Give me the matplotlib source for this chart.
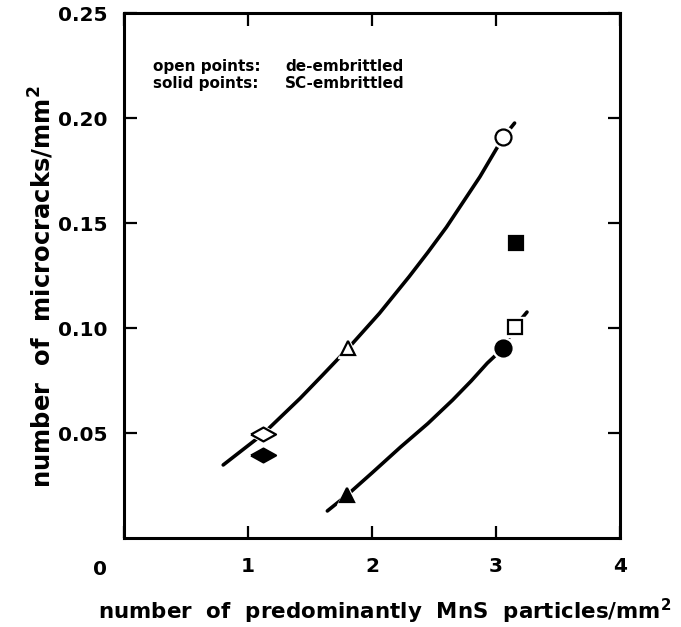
import matplotlib
matplotlib.use("Agg")
import matplotlib.pyplot as plt

plt.rcParams["font.family"] = ["DejaVu Sans"]
plt.rcParams["font.weight"] = "bold"
plt.rcParams["axes.labelweight"] = "bold"
plt.rcParams["mathtext.default"] = "bf"

# fitted curves
upper_x = [0.80, 1.12, 1.42, 1.60, 1.81, 2.06, 2.30, 2.45, 2.60, 2.87, 3.06, 3.15]
upper_y = [0.0348, 0.0495, 0.0665, 0.0775, 0.0905, 0.107, 0.1245, 0.136, 0.148, 0.172, 0.191, 0.1976]
lower_x = [1.64, 1.80, 2.00, 2.23, 2.45, 2.65, 2.80, 2.93, 3.06, 3.15, 3.25]
lower_y = [0.0129, 0.0205, 0.031, 0.0433, 0.0545, 0.0657, 0.0748, 0.0833, 0.0905, 0.1005, 0.1076]

# measured points (open = de-embrittled, solid = SC-embrittled)
open_x = [1.12, 1.81, 3.06, 3.15]
open_y = [0.0495, 0.0905, 0.191, 0.1005]
solid_x = [1.12, 1.80, 3.06, 3.16]
solid_y = [0.0395, 0.0205, 0.0905, 0.1405]

flat_diamond = [(-1.8, 0), (0, 1), (1.8, 0), (0, -1), (-1.8, 0)]
shapes = [(flat_diamond, 18), ("^", 10.5), ("o", 11.5), ("s", 10.5)]

xticks = [0, 1, 2, 3, 4]
xtick_labels = ["", "1", "2", "3", "4"]
yticks = [0.05, 0.10, 0.15, 0.20, 0.25]
ytick_labels = ["0.05", "0.10", "0.15", "0.20", "0.25"]

fig = plt.figure(figsize=(6.81, 6.27), dpi=100)
ax = fig.add_axes([0.1821, 0.1419, 0.7283, 0.8373])

ax.plot(upper_x, upper_y, color="black", lw=2.6, solid_capstyle="round",
        solid_joinstyle="round", zorder=2)
ax.plot(lower_x, lower_y, color="black", lw=2.6, solid_capstyle="round",
        solid_joinstyle="round", zorder=2)

for i, (m, ms) in enumerate(shapes):
    for xs, ys, face in [(open_x, open_y, "white"), (solid_x, solid_y, "black")]:
        # white halo so the curve breaks around each marker
        ax.plot(xs[i], ys[i], marker=m, ms=ms + 4, color="white", ls="none", zorder=3)
        ax.plot(xs[i], ys[i], marker=m, ms=ms, mfc=face, mec="black", mew=1.6,
                ls="none", zorder=4)

ax.set_xlim(0, 4)
ax.set_ylim(0, 0.25)
ax.set_xticks(xticks)
ax.set_xticklabels(xtick_labels)
ax.set_yticks(yticks)
ax.set_yticklabels(ytick_labels)
ax.tick_params(direction="in", length=9, width=1.6, top=True, right=True,
               labelsize=14.5, pad=14)
ax.tick_params(axis="y", pad=12)
for s in ax.spines.values():
    s.set_linewidth(2.2)

ax.text(-0.048, -0.06, "0", transform=ax.transAxes, ha="center", va="center",
        fontsize=14.5)

ax.set_xlabel("number  of  predominantly  MnS  particles/mm$^{2}$", fontsize=15.4)
ax.xaxis.set_label_coords(0.526, -0.112)
ax.set_ylabel("number  of  microcracks/mm$^{2}$", fontsize=17.5)
ax.yaxis.label.set_va("center")
ax.yaxis.set_label_coords(-0.167, 0.478)

ax.text(0.058, 0.899, "open points:", transform=ax.transAxes, va="center", fontsize=11)
ax.text(0.325, 0.899, "de-embrittled", transform=ax.transAxes, va="center", fontsize=11)
ax.text(0.058, 0.865, "solid points:", transform=ax.transAxes, va="center", fontsize=11)
ax.text(0.325, 0.865, "SC-embrittled", transform=ax.transAxes, va="center", fontsize=11)

fig.savefig("out.png", dpi=100)
